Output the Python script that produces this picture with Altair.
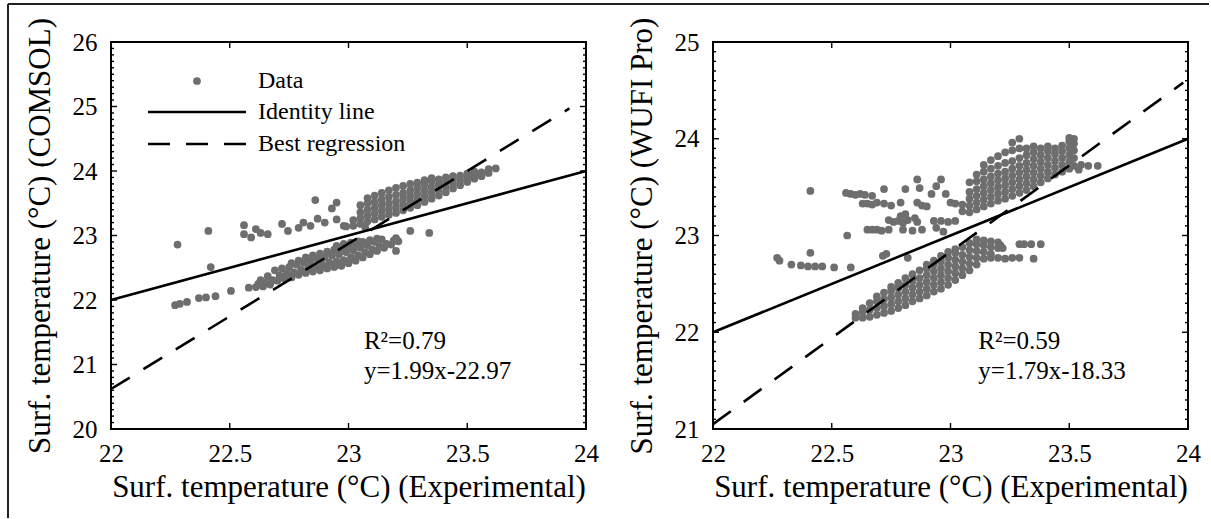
import altair as alt
import pandas as pd
import numpy as np

# ---------------- data ----------------
comsol_lower = [
    (22.58, 22.19), (22.61, 22.20), (22.62, 22.25), (22.64, 22.21), (22.65, 22.27), (22.63, 22.31),
    (22.67, 22.24), (22.68, 22.31), (22.66, 22.37), (22.70, 22.30), (22.71, 22.38), (22.69, 22.46),
    (22.73, 22.33), (22.74, 22.41), (22.72, 22.49), (22.76, 22.35), (22.77, 22.43), (22.75, 22.51),
    (22.76, 22.57), (22.79, 22.39), (22.80, 22.47), (22.78, 22.55), (22.79, 22.61), (22.82, 22.42),
    (22.83, 22.50), (22.81, 22.58), (22.82, 22.66), (22.85, 22.44), (22.86, 22.52), (22.84, 22.60),
    (22.85, 22.69), (22.88, 22.46), (22.89, 22.55), (22.87, 22.63), (22.88, 22.72), (22.91, 22.49),
    (22.92, 22.58), (22.90, 22.66), (22.91, 22.75), (22.94, 22.51), (22.95, 22.60), (22.93, 22.69),
    (22.94, 22.78), (22.95, 22.84), (22.97, 22.53), (22.98, 22.62), (22.96, 22.71), (22.97, 22.80),
    (22.98, 22.87), (23.00, 22.57), (23.01, 22.66), (22.99, 22.74), (23.00, 22.83), (23.01, 22.89),
    (23.03, 22.61), (23.04, 22.69), (23.02, 22.77), (23.03, 22.86), (23.04, 22.91), (23.06, 22.66),
    (23.07, 22.74), (23.05, 22.81), (23.06, 22.90), (23.09, 22.71), (23.10, 22.78), (23.08, 22.85),
    (23.09, 22.93), (23.12, 22.76), (23.13, 22.83), (23.11, 22.90), (23.12, 22.95), (23.15, 22.81),
    (23.16, 22.87), (23.14, 22.94), (23.18, 22.86), (23.19, 22.92), (23.21, 22.91), (23.20, 22.96),
]
comsol_upper = [
    (22.99, 23.14), (23.02, 23.15), (23.02, 23.24), (23.07, 23.13),
    (23.05, 23.18), (23.05, 23.27), (23.05, 23.36), (23.05, 23.47),
    (23.08, 23.22), (23.08, 23.31), (23.08, 23.40), (23.08, 23.50), (23.08, 23.58),
    (23.11, 23.25), (23.11, 23.34), (23.11, 23.43), (23.11, 23.52), (23.11, 23.62),
    (23.14, 23.29), (23.14, 23.38), (23.14, 23.47), (23.14, 23.56), (23.14, 23.66),
    (23.17, 23.32), (23.17, 23.41), (23.17, 23.50), (23.17, 23.60), (23.17, 23.70),
    (23.20, 23.35), (23.20, 23.44), (23.20, 23.53), (23.20, 23.63), (23.20, 23.74),
    (23.23, 23.39), (23.23, 23.48), (23.23, 23.57), (23.23, 23.66), (23.23, 23.77),
    (23.26, 23.43), (23.26, 23.52), (23.26, 23.61), (23.26, 23.70), (23.26, 23.80),
    (23.29, 23.47), (23.29, 23.56), (23.29, 23.65), (23.29, 23.74), (23.29, 23.82),
    (23.32, 23.52), (23.32, 23.61), (23.32, 23.70), (23.32, 23.79), (23.32, 23.86),
    (23.35, 23.57), (23.35, 23.66), (23.35, 23.75), (23.35, 23.84), (23.35, 23.89),
    (23.38, 23.62), (23.38, 23.71), (23.38, 23.79), (23.38, 23.87),
    (23.41, 23.67), (23.41, 23.76), (23.41, 23.83), (23.41, 23.90),
    (23.44, 23.73), (23.44, 23.81), (23.44, 23.88), (23.44, 23.92),
    (23.47, 23.78), (23.47, 23.86), (23.47, 23.93), (23.50, 23.83), (23.50, 23.90), (23.50, 23.96),
    (23.53, 23.88), (23.53, 23.94), (23.53, 23.99), (23.56, 23.92), (23.56, 23.98),
    (23.59, 23.97), (23.59, 24.03), (23.62, 24.04),
]
comsol_scatter = [
    (22.28, 22.86), (22.41, 23.07), (22.42, 22.51), (22.27, 21.92), (22.29, 21.94), (22.32, 21.97),
    (22.37, 22.03), (22.40, 22.04), (22.44, 22.06), (22.505, 22.14), (22.56, 23.16), (22.56, 23.02),
    (22.59, 22.97), (22.61, 23.10), (22.63, 23.04), (22.66, 23.02), (22.72, 23.18), (22.745, 23.07),
    (22.79, 23.12), (22.81, 23.20), (22.84, 23.15), (22.86, 23.55), (22.87, 23.26), (22.90, 23.20),
    (22.93, 23.42), (22.95, 23.51), (22.95, 23.25), (22.98, 23.15), (23.26, 23.07), (23.34, 23.04),
    (23.20, 22.76),
]

wufi_lower = [
    (22.60, 22.15), (22.60, 22.19), (22.63, 22.15), (22.63, 22.21), (22.63, 22.25),
    (22.66, 22.16), (22.66, 22.23), (22.66, 22.30), (22.69, 22.18), (22.69, 22.25), (22.69, 22.32),
    (22.69, 22.37), (22.72, 22.20), (22.72, 22.27), (22.72, 22.34), (22.72, 22.41),
    (22.75, 22.22), (22.75, 22.29), (22.75, 22.36), (22.75, 22.43), (22.75, 22.47),
    (22.78, 22.25), (22.78, 22.32), (22.78, 22.39), (22.78, 22.46), (22.78, 22.51),
    (22.81, 22.28), (22.81, 22.35), (22.81, 22.42), (22.81, 22.49), (22.81, 22.56),
    (22.84, 22.32), (22.84, 22.39), (22.84, 22.46), (22.84, 22.53), (22.84, 22.60),
    (22.87, 22.35), (22.87, 22.42), (22.87, 22.49), (22.87, 22.56), (22.87, 22.64),
    (22.90, 22.38), (22.90, 22.45), (22.90, 22.52), (22.90, 22.59), (22.90, 22.66), (22.90, 22.70),
    (22.93, 22.42), (22.93, 22.49), (22.93, 22.56), (22.93, 22.63), (22.93, 22.70), (22.93, 22.74),
    (22.96, 22.45), (22.96, 22.52), (22.96, 22.59), (22.96, 22.66), (22.96, 22.73), (22.96, 22.79),
    (22.99, 22.49), (22.99, 22.56), (22.99, 22.63), (22.99, 22.70), (22.99, 22.77), (22.99, 22.83),
    (23.02, 22.54), (23.02, 22.61), (23.02, 22.68), (23.02, 22.75), (23.02, 22.82), (23.02, 22.86),
    (23.05, 22.59), (23.05, 22.66), (23.05, 22.73), (23.05, 22.80), (23.05, 22.88),
    (23.08, 22.64), (23.08, 22.71), (23.08, 22.78), (23.08, 22.85), (23.08, 22.92),
    (23.11, 22.70), (23.11, 22.77), (23.11, 22.84), (23.11, 22.91), (23.11, 22.96),
    (23.14, 22.76), (23.14, 22.83), (23.14, 22.90), (23.14, 22.95),
    (23.17, 22.81), (23.17, 22.88), (23.17, 22.94), (23.20, 22.87), (23.20, 22.93),
]
wufi_upper = [
    (23.05, 23.25), (23.05, 23.32),
    (23.08, 23.24), (23.08, 23.31), (23.08, 23.38), (23.08, 23.45), (23.08, 23.55),
    (23.11, 23.27), (23.11, 23.34), (23.11, 23.41), (23.11, 23.48), (23.11, 23.56), (23.11, 23.63),
    (23.14, 23.30), (23.14, 23.37), (23.14, 23.44), (23.14, 23.51), (23.14, 23.58), (23.14, 23.66), (23.14, 23.73),
    (23.17, 23.33), (23.17, 23.40), (23.17, 23.47), (23.17, 23.54), (23.17, 23.61), (23.17, 23.69), (23.17, 23.78),
    (23.20, 23.36), (23.20, 23.43), (23.20, 23.50), (23.20, 23.57), (23.20, 23.64), (23.20, 23.72), (23.20, 23.82),
    (23.23, 23.38), (23.23, 23.45), (23.23, 23.52), (23.23, 23.59), (23.23, 23.66), (23.23, 23.75), (23.23, 23.86),
    (23.26, 23.41), (23.26, 23.48), (23.26, 23.55), (23.26, 23.62), (23.26, 23.69), (23.26, 23.77), (23.26, 23.88),
    (23.26, 23.96), (23.29, 23.44), (23.29, 23.51), (23.29, 23.58), (23.29, 23.65), (23.29, 23.72),
    (23.29, 23.80), (23.29, 23.90), (23.29, 24.00),
    (23.32, 23.47), (23.32, 23.54), (23.32, 23.61), (23.32, 23.68), (23.32, 23.75), (23.32, 23.83), (23.32, 23.90),
    (23.35, 23.51), (23.35, 23.58), (23.35, 23.65), (23.35, 23.72), (23.35, 23.79), (23.35, 23.86), (23.35, 23.92),
    (23.38, 23.55), (23.38, 23.62), (23.38, 23.69), (23.38, 23.76), (23.38, 23.83), (23.38, 23.90),
    (23.41, 23.59), (23.41, 23.66), (23.41, 23.73), (23.41, 23.80), (23.41, 23.87), (23.41, 23.92),
    (23.44, 23.63), (23.44, 23.70), (23.44, 23.77), (23.44, 23.84), (23.44, 23.90),
    (23.47, 23.66), (23.47, 23.73), (23.47, 23.80), (23.47, 23.87), (23.47, 23.93),
    (23.50, 23.69), (23.50, 23.76), (23.50, 23.83), (23.50, 23.90), (23.50, 23.97), (23.50, 24.01),
    (23.52, 23.72), (23.52, 23.80), (23.52, 23.88), (23.52, 23.95), (23.52, 24.00),
    (23.55, 23.73), (23.58, 23.72), (23.62, 23.72), (23.54, 23.68),
]
wufi_scatter = [
    (22.41, 23.46), (22.56, 23.44), (22.58, 23.43), (22.60, 23.42), (22.62, 23.43), (22.64, 23.42),
    (22.67, 23.41), (22.72, 23.48), (22.81, 23.48), (22.86, 23.58), (22.96, 23.58), (22.94, 23.51),
    (22.87, 23.49), (22.63, 23.33), (22.65, 23.33), (22.67, 23.32), (22.69, 23.34), (22.72, 23.33),
    (22.75, 23.31), (22.79, 23.34), (22.86, 23.34), (22.88, 23.31), (22.90, 23.30), (22.92, 23.43),
    (22.98, 23.43), (23.00, 23.34), (23.02, 23.33), (22.74, 23.16), (22.76, 23.14), (22.78, 23.15),
    (22.80, 23.13), (22.82, 23.16), (22.85, 23.18), (22.86, 23.14), (22.93, 23.15), (22.96, 23.15),
    (22.99, 23.14), (23.02, 23.15), (22.79, 23.20), (22.81, 23.22), (22.65, 23.06), (22.67, 23.06),
    (22.69, 23.06), (22.71, 23.05), (22.74, 23.06), (22.80, 23.06), (22.84, 23.05), (22.88, 23.06),
    (22.94, 23.08), (22.97, 23.04), (22.565, 23.00), (22.41, 22.82), (22.27, 22.77), (22.28, 22.74),
    (22.33, 22.70), (22.37, 22.69), (22.40, 22.68), (22.43, 22.68), (22.46, 22.68), (22.51, 22.67),
    (22.58, 22.67), (22.73, 22.81), (22.82, 22.77), (22.715, 22.79),
    (23.17, 22.77), (23.20, 22.77), (23.23, 22.76), (23.26, 22.77), (23.29, 22.77), (23.35, 22.76),
    (23.21, 22.90), (23.22, 22.87), (23.29, 22.91), (23.31, 22.91), (23.34, 22.91), (23.38, 22.91),
]

# lines as drawn in the figure
identity_x = [22, 24]
identity_y = [22, 24]
comsol_reg_x = [22, 23.93]
comsol_reg_y = [20.62, 24.97]
wufi_reg_x = [22, 23.98]
wufi_reg_y = [21.05, 24.58]

comsol_ann = ["R\u00b2=0.79", "y=1.99x-22.97"]
comsol_ann_x = [23.065, 23.065]
comsol_ann_y = [21.36, 20.90]
wufi_ann = ["R\u00b2=0.59", "y=1.79x-18.33"]
wufi_ann_x = [23.117, 23.117]
wufi_ann_y = [21.91, 21.60]

legend_labels = ["Data", "Identity line", "Best regression"]

x_ticks = [22, 22.5, 23, 23.5, 24]
comsol_yticks = [20, 21, 22, 23, 24, 25, 26]
wufi_yticks = [21, 22, 23, 24, 25]

x_title = "Surf. temperature (\u00b0C) (Experimental)"
comsol_ytitle = "Surf. temperature (\u00b0C) (COMSOL)"
wufi_ytitle = "Surf. temperature (\u00b0C) (WUFI Pro)"

# ---------------- styling ----------------
W, H = 475, 387
FONT = "Liberation Serif"
GRAY = "#6e6e6e"
PT = 60


def make_panel(points, ydom, yticks, ytitle, reg_x, reg_y, ann, ann_x, ann_y, legend=False, frame=False):
    xs = alt.Scale(domain=[22, 24], nice=False, zero=False)
    ys = alt.Scale(domain=ydom, nice=False, zero=False)
    xaxis = alt.Axis(values=x_ticks, labelExpr="'' + datum.value", ticks=False, domain=False, grid=False,
                     labelFont=FONT, labelFontSize=25, labelColor="black", labelPadding=12,
                     labelFlush=False, labelOverlap=False,
                     titleFont=FONT, titleFontSize=31, titleFontWeight="normal", titleColor="black",
                     titlePadding=6)
    yaxis = alt.Axis(values=yticks, labelExpr="'' + datum.value", ticks=False, domain=False, grid=False,
                     labelFont=FONT, labelFontSize=25, labelColor="black", labelPadding=14,
                     labelFlush=False, labelOverlap=False,
                     titleFont=FONT, titleFontSize=31, titleFontWeight="normal", titleColor="black",
                     titlePadding=16)

    def X(f):
        return alt.X(f, type="quantitative", scale=xs, axis=xaxis, title=x_title)

    def Y(f):
        return alt.Y(f, type="quantitative", scale=ys, axis=yaxis, title=ytitle)

    df = pd.DataFrame(points, columns=["x", "y"])
    scatter = alt.Chart(df).mark_circle(size=PT, color=GRAY, opacity=1).encode(x=X("x"), y=Y("y"))

    ident = alt.Chart(pd.DataFrame({"x": identity_x, "y": identity_y})).mark_line(
        color="black", strokeWidth=2.6).encode(x=X("x"), y=Y("y"))
    reg = alt.Chart(pd.DataFrame({"x": reg_x, "y": reg_y})).mark_line(
        color="black", strokeWidth=2.6, strokeDash=[22, 16]).encode(x=X("x"), y=Y("y"))

    ann_df = pd.DataFrame({"x": ann_x, "y": ann_y, "t": ann})
    ann_layer = alt.Chart(ann_df).mark_text(align="left", baseline="middle", font=FONT, fontSize=25,
                                            color="black").encode(x=X("x"), y=Y("y"), text="t:N")

    # inward ticks on all four sides
    ymaj = pd.DataFrame({"v": yticks})
    ymin_vals = [round(v, 1) for v in np.arange(ydom[0], ydom[1] + 1e-9, 0.1) if abs(v - round(v)) > 1e-6]
    ymin = pd.DataFrame({"v": ymin_vals})
    xmaj = pd.DataFrame({"v": x_ticks[1:-1]})
    tk = dict(color="black", strokeWidth=1.4)
    ticks = [
        alt.Chart(ymaj).mark_rule(**tk).encode(y=Y("v"), x=alt.value(0), x2=alt.value(6)),
        alt.Chart(ymaj).mark_rule(**tk).encode(y=Y("v"), x=alt.value(W - 6), x2=alt.value(W)),
        alt.Chart(ymin).mark_rule(**tk).encode(y=Y("v"), x=alt.value(0), x2=alt.value(3)),
        alt.Chart(ymin).mark_rule(**tk).encode(y=Y("v"), x=alt.value(W - 3), x2=alt.value(W)),
        alt.Chart(xmaj).mark_rule(**tk).encode(x=X("v"), y=alt.value(0), y2=alt.value(6)),
        alt.Chart(xmaj).mark_rule(**tk).encode(x=X("v"), y=alt.value(H - 6), y2=alt.value(H)),
    ]

    layers = [scatter, ident, reg, ann_layer] + ticks

    if legend:
        one = pd.DataFrame({"a": [0]})
        leg_txt = pd.DataFrame({"t": legend_labels, "py": [39, 70, 102]})
        layers += [
            alt.Chart(one).mark_circle(size=PT, color=GRAY, opacity=1).encode(x=alt.value(86), y=alt.value(39)),
            alt.Chart(one).mark_rule(color="black", strokeWidth=2.6).encode(
                x=alt.value(37), x2=alt.value(135), y=alt.value(70)),
            alt.Chart(one).mark_rule(color="black", strokeWidth=2.6, strokeDash=[22, 16]).encode(
                x=alt.value(37), x2=alt.value(135), y=alt.value(102)),
            alt.Chart(leg_txt).mark_text(align="left", baseline="middle", font=FONT, fontSize=24,
                                         color="black").encode(
                x=alt.value(147), y=alt.Y("py:Q", scale=None, axis=None), text="t:N"),
        ]
    if frame:
        layers += [
            alt.Chart(pd.DataFrame({"a": [0]})).mark_rule(color="#222222", strokeWidth=2).encode(
                x=alt.value(-103), y=alt.value(-38), y2=alt.value(476)),
            alt.Chart(pd.DataFrame({"a": [0]})).mark_rule(color="#222222", strokeWidth=2).encode(
                x=alt.value(-103), x2=alt.value(1098), y=alt.value(-38)),
        ]

    return alt.layer(*layers).properties(width=W, height=H)


left = make_panel(comsol_lower + comsol_upper + comsol_scatter, [20, 26], comsol_yticks, comsol_ytitle,
                  comsol_reg_x, comsol_reg_y, comsol_ann, comsol_ann_x, comsol_ann_y, legend=True, frame=True)
right = make_panel(wufi_lower + wufi_upper + wufi_scatter, [21, 25], wufi_yticks, wufi_ytitle,
                   wufi_reg_x, wufi_reg_y, wufi_ann, wufi_ann_x, wufi_ann_y)

chart = alt.hconcat(left, right, spacing=127, bounds="flush").properties(
    padding={"left": 6, "top": 2, "right": 0, "bottom": 0},
    background="white",
).configure_view(stroke="black", strokeWidth=2)

chart.save("out.html", embed_options={"renderer": "svg", "actions": False})
